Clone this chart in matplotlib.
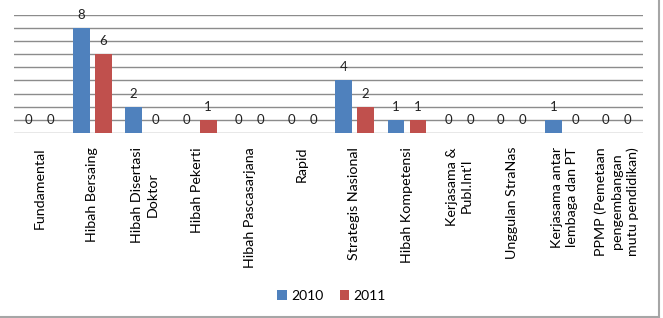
import numpy as np
import matplotlib
matplotlib.use("Agg")
import matplotlib.pyplot as plt
from matplotlib.lines import Line2D

# categories (tick labels) and values per year
categories = [
    "Fundamental",
    "Hibah Bersaing",
    "Hibah Disertasi\nDoktor",
    "Hibah Pekerti",
    "Hibah Pascasarjana",
    "Rapid",
    "Strategis Nasional",
    "Hibah Kompetensi",
    "Kerjasama &\nPubl.Int'l",
    "Unggulan StraNas",
    "Kerjasama antar\nlembaga dan PT",
    "PPMP (Pemetaan\npengembangan\nmutu pendidikan)",
]
val_2010 = [0, 8, 2, 0, 0, 0, 4, 1, 0, 0, 1, 0]
val_2011 = [0, 6, 0, 1, 0, 0, 2, 1, 0, 0, 0, 0]

plt.rcParams['font.family'] = ['Lato', 'DejaVu Sans']

W, H = 663, 318
fig = plt.figure(figsize=(W / 100, H / 100), dpi=100)
ax = fig.add_axes([13.5 / W, (H - 133) / H, (643 - 13.5) / W, (133 - 14.7) / H])

x = np.arange(len(categories))
bw = 0.32
off = 0.21
b1 = ax.bar(x - off, val_2010, bw, color='#4F81BD', label='2010', zorder=3)
b2 = ax.bar(x + off, val_2011, bw, color='#C0504D', label='2011', zorder=3)

# data labels, roughly one grid step above the bar top
for bars, vals in ((b1, val_2010), (b2, val_2011)):
    for r, v in zip(bars, vals):
        ax.annotate(str(v), (r.get_x() + r.get_width() / 2, v),
                    xytext=(0, 9.5), textcoords='offset points',
                    ha='center', va='center', fontsize=9.5, color='#222222',
                    zorder=4)

ax.set_xlim(-0.5, len(categories) - 0.5)
ax.set_ylim(0, 9)
ax.set_yticks(np.arange(0, 10, 1))
ax.yaxis.grid(True, color='#8c8c8c', lw=1.0, zorder=1)
ax.tick_params(axis='y', left=False, labelleft=False)
ax.tick_params(axis='x', length=0, pad=10)
for s in ax.spines.values():
    s.set_visible(False)

ax.set_xticks(x)
ax.set_xticklabels(categories, rotation=90, fontsize=10.3, va='top',
                   ha='center', multialignment='center', linespacing=1.35)

fig.legend(handles=[b1, b2], loc='center', bbox_to_anchor=(0.5, 22 / H),
           ncol=2, frameon=False, fontsize=10, handlelength=0.7,
           handleheight=0.7, handletextpad=0.3, columnspacing=1.2)

# outer chart frame (right and bottom edges are visible)
fig.add_artist(Line2D([658.5 / W, 658.5 / W], [1.5 / H, 1], color='#a6a6a6', lw=1.5))
fig.add_artist(Line2D([0, 658.5 / W], [1.5 / H, 1.5 / H], color='#a6a6a6', lw=1.5))

fig.savefig('out.png', dpi=100, facecolor='white')
